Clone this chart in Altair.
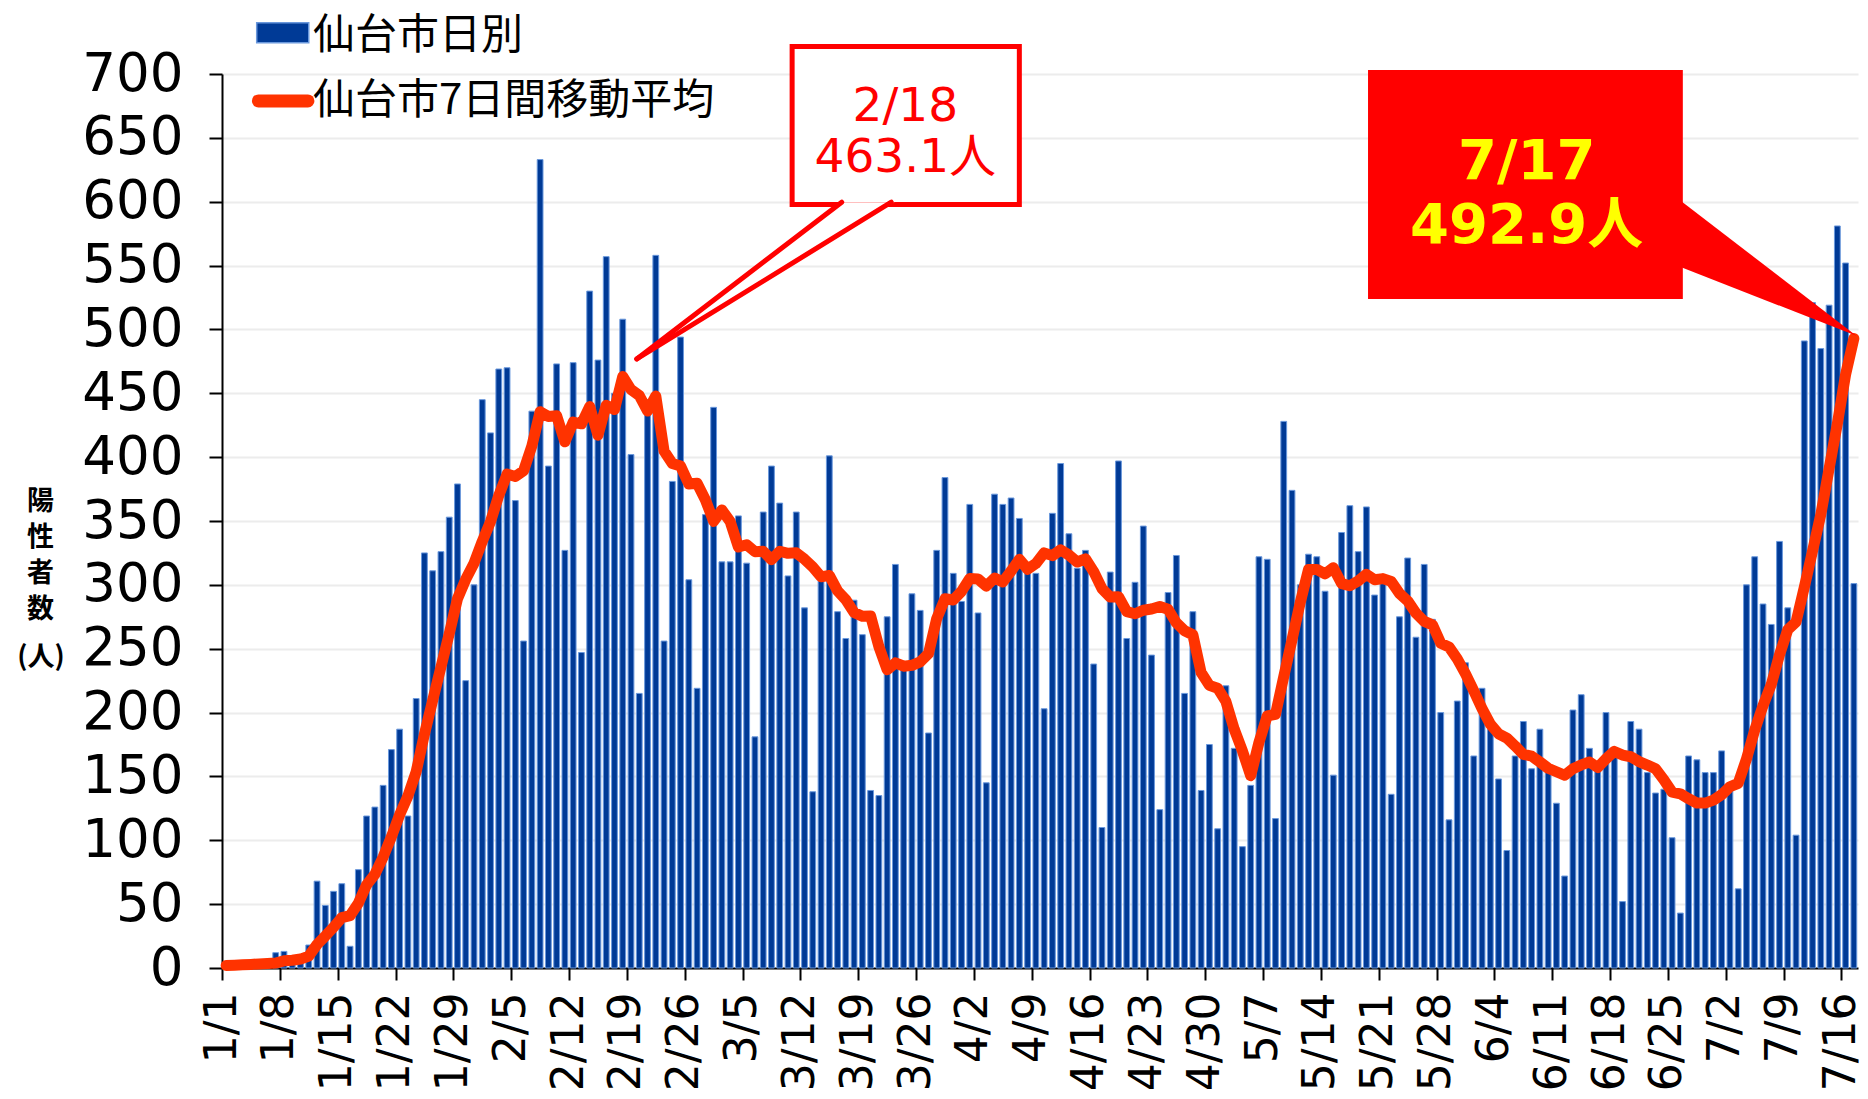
import altair as alt
import pandas as pd

# ---- data (Sendai, 2022-01-01 .. 2022-07-17) ----
daily = [1, 2, 3, 2, 4, 3, 12, 13, 6, 9, 18, 68, 49, 60, 66, 17, 77, 119, 126, 143,
         171, 187, 119, 211, 325, 311, 326, 353, 379, 225, 300, 445, 419, 469, 470, 366, 256, 436, 633, 393,
         473, 327, 474, 247, 530, 476, 557, 450, 508, 402, 215, 445, 558, 256, 381, 494, 304, 219, 355, 439,
         318, 318, 354, 317, 181, 357, 393, 364, 307, 357, 282, 138, 303, 401, 279, 258, 288, 261, 139, 135,
         275, 316, 240, 293, 280, 184, 327, 384, 309, 287, 363, 278, 145, 371, 363, 368, 352, 309, 309, 203,
         356, 395, 340, 313, 327, 238, 110, 310, 397, 258, 302, 346, 245, 124, 294, 323, 215, 279, 139, 175,
         109, 221, 172, 95, 143, 322, 320, 117, 428, 374, 300, 324, 322, 295, 151, 341, 362, 326, 361, 292,
         301, 136, 275, 321, 259, 316, 273, 200, 116, 209, 239, 166, 219, 187, 148, 92, 166, 193, 156, 187,
         153, 129, 72, 202, 214, 172, 157, 200, 170, 52, 193, 187, 153, 137, 140, 102, 43, 166, 163, 153,
         153, 170, 145, 62, 300, 322, 285, 269, 334, 282, 104, 491, 521, 485, 519, 581, 552, 301]

ma7 = [2.0, 2.2, 2.5, 2.8, 3.2, 3.5, 3.9, 5.6, 6.1, 7.0, 9.3, 18.4, 25.0, 31.9, 39.4, 41.0, 50.7, 65.1, 73.4, 86.9,
       102.7, 120.0, 134.6, 153.7, 183.1, 209.6, 235.7, 261.7, 289.1, 304.3, 317.0, 334.1, 349.6, 370.0, 386.7, 384.9, 389.3, 408.7, 435.6, 431.9,
       432.4, 412.0, 427.4, 426.1, 439.6, 417.1, 440.6, 437.3, 463.1, 452.9, 448.3, 436.1, 447.9, 404.9, 395.0, 393.0, 379.0, 379.6, 366.7, 349.7,
       358.6, 349.6, 329.6, 331.4, 326.0, 326.3, 319.7, 326.3, 324.7, 325.1, 320.1, 314.0, 306.3, 307.4, 295.3, 288.3, 278.4, 275.4, 275.6, 251.6,
       233.6, 238.9, 236.3, 237.0, 239.7, 246.1, 273.6, 289.1, 288.1, 294.9, 304.9, 304.6, 299.0, 305.3, 302.3, 310.7, 320.0, 312.3, 316.7, 325.0,
       322.9, 327.4, 323.4, 317.9, 320.4, 310.3, 297.0, 290.4, 290.7, 279.0, 277.4, 280.1, 281.1, 283.1, 280.9, 270.3, 264.1, 260.9, 231.3, 221.3,
       219.1, 208.7, 187.1, 170.0, 150.6, 176.7, 197.4, 198.6, 228.1, 257.0, 286.3, 312.1, 312.1, 308.6, 313.4, 301.0, 299.3, 303.0, 308.3, 304.0,
       304.9, 302.7, 293.3, 287.4, 277.9, 271.4, 268.7, 254.3, 251.4, 242.0, 230.3, 217.0, 203.1, 190.9, 183.4, 180.0, 173.9, 167.3, 165.9, 161.3,
       156.4, 153.7, 150.9, 156.0, 159.0, 161.3, 157.0, 163.7, 169.6, 166.7, 165.4, 161.6, 158.9, 156.0, 147.4, 137.7, 136.4, 132.6, 129.1, 129.1,
       131.4, 135.7, 141.9, 144.6, 163.7, 186.4, 205.3, 221.9, 245.3, 264.9, 270.9, 298.1, 326.6, 355.1, 390.9, 426.1, 464.7, 492.9]

tick_labels = ["1/1", "1/8", "1/15", "1/22", "1/29", "2/5", "2/12", "2/19", "2/26", "3/5",
               "3/12", "3/19", "3/26", "4/2", "4/9", "4/16", "4/23", "4/30", "5/7", "5/14",
               "5/21", "5/28", "6/4", "6/11", "6/18", "6/25", "7/2", "7/9", "7/16"]

y_ticks = list(range(0, 701, 50))
y_title = ["陽", "性", "者", "数"]
y_unit = "(人)"
series_names = ["仙台市日別", "仙台市7日間移動平均"]
peak1 = ("2/18", "463.1人")
peak2 = ("7/17", "492.9人")

# ---- styling ----
BAR = "#003a96"
BAR_EDGE = "#6a98dc"
LINE = "#ff3300"
RED = "#ff0000"
NUM_FONT = "DejaVu Sans, Noto Sans CJK JP"
JP_FONT = "Noto Sans CJK JP"

n = len(daily)
df = pd.DataFrame({"day": list(range(n)), "daily": daily, "ma": ma7})

xs = alt.Scale(domain=[0, n], nice=False, zero=False)
ys = alt.Scale(domain=[0, 700], nice=False, zero=True)

label_expr = "[" + ",".join("'%s'" % t for t in tick_labels) + "][round(datum.value/7)]"

x_axis = alt.Axis(values=list(range(0, 7 * len(tick_labels), 7)), labelExpr=label_expr,
                  labelAngle=-90, labelAlign="right", labelBaseline="middle",
                  labelFont=NUM_FONT, labelFontSize=44, labelColor="black",
                  labelPadding=12, labelOverlap=False, labelFlush=False, labelBound=False,
                  tickSize=12, tickWidth=2, tickColor="black",
                  domainColor="black", domainWidth=2, grid=False, title=None)

y_axis = alt.Axis(values=y_ticks, labelFont=NUM_FONT, labelFontSize=53, labelColor="black",
                  labelPadding=26, tickSize=13, tickWidth=2, tickColor="black",
                  domainColor="black", domainWidth=2,
                  grid=True, gridColor="#ececec", gridWidth=2,
                  title=y_title, titleAngle=0,
                  titleX=-182, titleY=414, titleAlign="center", titleBaseline="top",
                  titleFont=JP_FONT, titleFontSize=27, titleFontWeight="bold",
                  titleLineHeight=36, titleColor="black")


def X(f):
    return alt.X(f + ":Q", scale=xs, title=None)


def Y(f):
    return alt.Y(f + ":Q", scale=ys, title=y_title)


bars = alt.Chart(df).transform_calculate(
    x0="datum.day + 0.15", x1="datum.day + 0.85", zero="0"
).mark_rect(color=BAR, stroke=BAR_EDGE, strokeWidth=1).encode(
    x=alt.X("x0:Q", scale=xs, axis=x_axis),
    x2="x1:Q",
    y=alt.Y("daily:Q", scale=ys, axis=y_axis),
    y2="zero:Q",
)

line = alt.Chart(df).transform_calculate(xc="datum.day + 0.5").mark_line(
    color=LINE, strokeWidth=11, strokeCap="round", strokeJoin="round"
).encode(x=X("xc"), y=Y("ma"))


def pos(chart, xf, yf):
    return chart.encode(x=X(xf), y=Y(yf))


# unit of the y title, under the stacked characters
unit_txt = pos(alt.Chart(pd.DataFrame({"x": [-21.9], "y": [243.0], "t": [y_unit]}))
               .mark_text(font=JP_FONT, fontSize=27, fontWeight="bold", color="black",
                          align="center", baseline="middle"), "x", "y").encode(text="t:N")

# ---- callout for 2/18 (white box with red frame) ----
box1 = pos(alt.Chart(pd.DataFrame({"a": [69.0], "b": [96.5], "c": [721.6], "d": [597.8]}))
           .mark_rect(fill="white", stroke=RED, strokeWidth=5), "a", "c").encode(x2="b:Q", y2="d:Q")
wedge1_fill = alt.Chart(pd.DataFrame({"y": [599.6, 476.9], "xl": [75.3, 50.2], "xr": [81.4, 50.2]})).mark_area(
    orient="horizontal", color="white").encode(y=Y("y"), x=X("xl"), x2="xr:Q")
wedge1_lines = pos(alt.Chart(pd.DataFrame({"a": [75.0, 81.0], "c": [599.6, 599.6],
                                           "b": [50.2, 50.2], "d": [476.9, 476.9]}))
                   .mark_rule(color=RED, strokeWidth=5, strokeCap="round"), "a", "c").encode(x2="b:Q", y2="d:Q")
text1 = pos(alt.Chart(pd.DataFrame({"x": [82.7, 82.7], "y": [663.0, 623.0], "t": list(peak1)}))
            .mark_text(font=NUM_FONT, fontSize=47, color=RED, align="center", baseline="alphabetic"),
            "x", "y").encode(text="t:N")

# ---- callout for 7/17 (filled red box) ----
box2 = pos(alt.Chart(pd.DataFrame({"a": [138.7], "b": [176.8], "c": [703.2], "d": [523.9]}))
           .mark_rect(fill=RED), "a", "c").encode(x2="b:Q", y2="d:Q")
wedge2 = alt.Chart(pd.DataFrame({"x": [176.3, 197.8], "yt": [602.0, 495.0], "yb": [549.5, 495.0]})).mark_area(
    color=RED).encode(x=X("x"), y=Y("yt"), y2="yb:Q")
text2 = pos(alt.Chart(pd.DataFrame({"x": [157.9, 157.9], "y": [618.0, 567.7], "t": list(peak2)}))
            .mark_text(font=NUM_FONT, fontSize=56, fontWeight="bold", color="#ffff00",
                       align="center", baseline="alphabetic"),
            "x", "y").encode(text="t:N")

# ---- legend (drawn inside the plot, top-left) ----
leg_sw1 = pos(alt.Chart(pd.DataFrame({"a": [4.2], "b": [10.5], "c": [740.2], "d": [724.5]}))
              .mark_rect(fill=BAR, stroke=BAR_EDGE, strokeWidth=1.5), "a", "c").encode(x2="b:Q", y2="d:Q")
leg_sw2 = pos(alt.Chart(pd.DataFrame({"a": [4.4], "b": [10.4], "c": [678.9]}))
              .mark_rule(color=LINE, strokeWidth=13, strokeCap="round"), "a", "c").encode(x2="b:Q")
leg_txt = pos(alt.Chart(pd.DataFrame({"x": [11.0, 11.0], "y": [730.0, 678.9], "t": series_names}))
              .mark_text(font=JP_FONT, fontSize=42, color="black", align="left", baseline="middle"),
              "x", "y").encode(text="t:N")

chart = alt.layer(
    bars, line, unit_txt, box1, wedge1_fill, wedge1_lines, text1,
    box2, wedge2, text2, leg_sw1, leg_sw2, leg_txt
).properties(
    width=1636, height=894,
    autosize=alt.AutoSizeParams(type="none"),
    padding={"left": 214, "top": 66, "right": 2, "bottom": 123},
    background="white",
).configure_view(strokeWidth=0)

chart.save("out.html", embed_options={"renderer": "svg", "actions": False})
